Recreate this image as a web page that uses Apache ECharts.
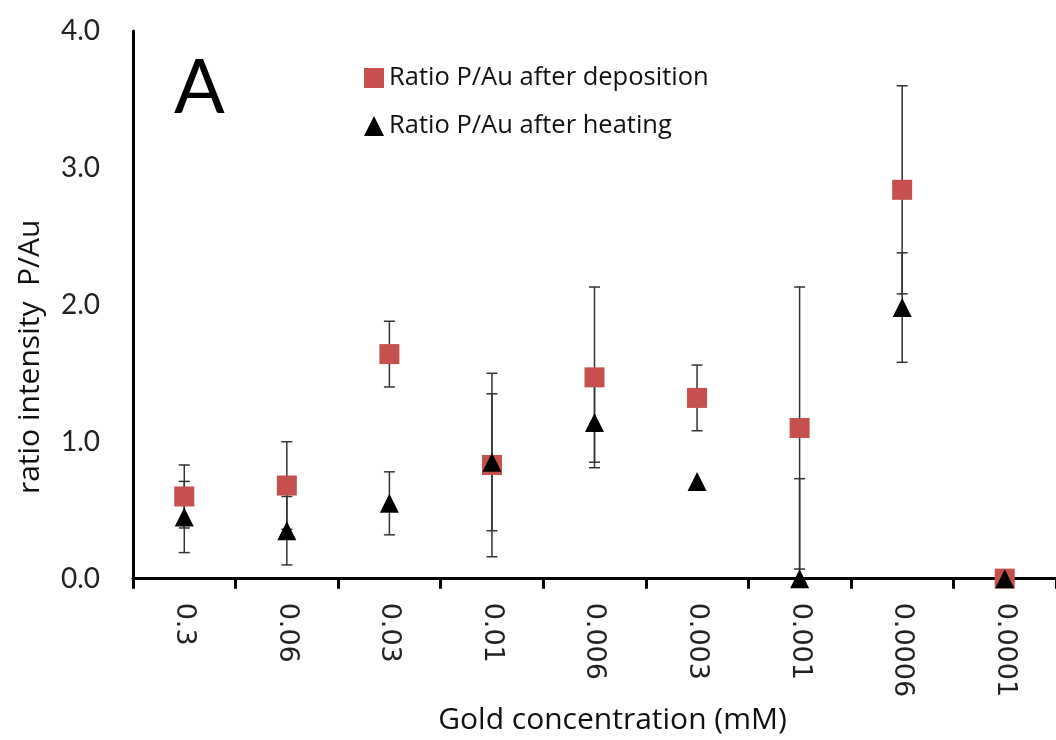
<!DOCTYPE html>
<html>
<head>
<meta charset="utf-8">
<script src="https://cdn.jsdelivr.net/npm/echarts@6/dist/echarts.min.js"></script>
<style>html,body{margin:0;padding:0;background:#fff}#c{width:1056px;height:740px}</style>
</head>
<body>
<div id="c"></div>
<script>
const categories = ['0.3','0.06','0.03','0.01','0.006','0.003','0.001','0.0006','0.0001'];
const depositionMean = [0.60, 0.68, 1.64, 0.83, 1.47, 1.32, 1.10, 2.84, 0.00];
const depositionErr  = [0.23, 0.32, 0.24, 0.67, 0.66, 0.24, 1.03, 0.76, 0.00];
const heatingMean    = [0.45, 0.35, 0.55, 0.85, 1.14, 0.71, 0.00, 1.98, 0.00];
const heatingErr     = [0.26, 0.25, 0.23, 0.50, 0.29, 0.00, 0.73, 0.40, 0.00];
const yTicks = [0, 1, 2, 3, 4];

const depName = 'Ratio P/Au after deposition';
const heatName = 'Ratio P/Au after heating';

function errData(mean, err) {
  return mean.map((m, i) => [i, m, err[i]]);
}

function renderErr(params, api) {
  const i = api.value(0), m = api.value(1), e = api.value(2);
  if (!e) return null;
  const lo = Math.max(0, m - e), hi = m + e;
  const pHi = api.coord([i, hi]);
  const pLo = api.coord([i, lo]);
  const cap = 5.5;
  const style = { stroke: '#333', lineWidth: 1.5 };
  const children = [
    { type: 'line', shape: { x1: pHi[0], y1: pHi[1], x2: pLo[0], y2: pLo[1] }, style: style },
    { type: 'line', shape: { x1: pHi[0] - cap, y1: pHi[1], x2: pHi[0] + cap, y2: pHi[1] }, style: style }
  ];
  if (m - e >= 0) {
    children.push({ type: 'line', shape: { x1: pLo[0] - cap, y1: pLo[1], x2: pLo[0] + cap, y2: pLo[1] }, style: style });
  }
  return { type: 'group', children: children };
}

const chart = echarts.init(document.getElementById('c'), null, { renderer: 'canvas' });
chart.setOption({
  animation: false,
  backgroundColor: '#fff',
  grid: { left: 133, right: 0, top: 31, bottom: 159, containLabel: false },
  legend: {
    orient: 'vertical',
    left: 359,
    top: 60,
    itemGap: 22,
    itemWidth: 20,
    itemHeight: 20,
    textStyle: { fontFamily: 'Open Sans', fontSize: 25.5, color: '#111' },
    data: [
      { name: depName, icon: 'rect' },
      { name: heatName, icon: 'triangle' }
    ]
  },
  graphic: [
    { type: 'text', left: 174, top: 51, style: { text: 'A', fontFamily: 'Lato', fontSize: 75, fill: '#000' } }
  ],
  xAxis: {
    type: 'category',
    data: categories,
    boundaryGap: true,
    name: 'Gold concentration (mM)',
    nameLocation: 'middle',
    nameGap: 114,
    nameTextStyle: { fontFamily: 'Open Sans', fontSize: 30, color: '#111', padding: [0, 0, 0, 36] },
    axisLine: { lineStyle: { color: '#000', width: 3 } },
    axisTick: { show: true, length: 10, lineStyle: { color: '#000', width: 3 }, alignWithLabel: false },
    axisLabel: { rotate: -90, margin: 24, fontFamily: 'DejaVu Sans', fontSize: 27, color: '#222' },
    splitLine: { show: false }
  },
  yAxis: {
    type: 'value',
    min: yTicks[0],
    max: yTicks[yTicks.length - 1],
    interval: 1,
    name: 'ratio intensity  P/Au',
    nameLocation: 'middle',
    nameGap: 88,
    nameTextStyle: { fontFamily: 'Open Sans', fontSize: 30, color: '#111', padding: [0, 104, 0, 0] },
    axisLine: { show: true, lineStyle: { color: '#000', width: 3 } },
    axisTick: { show: false },
    axisLabel: { margin: 33, fontFamily: 'Lato', fontSize: 28, color: '#222', formatter: v => v.toFixed(1) },
    splitLine: { show: false }
  },
  series: [
    {
      type: 'custom', name: 'depErr', renderItem: renderErr, data: errData(depositionMean, depositionErr),
      z: 1, silent: true, clip: false
    },
    {
      type: 'custom', name: 'heatErr', renderItem: renderErr, data: errData(heatingMean, heatingErr),
      z: 1, silent: true, clip: false
    },
    {
      type: 'scatter', name: depName, data: depositionMean, symbol: 'rect', symbolSize: 20,
      itemStyle: { color: '#c5504c', opacity: 1 }, z: 3
    },
    {
      type: 'scatter', name: heatName, data: heatingMean, symbol: 'triangle', symbolSize: [19, 19],
      itemStyle: { color: '#000', opacity: 1 }, z: 4
    }
  ]
});
</script>
</body>
</html>
